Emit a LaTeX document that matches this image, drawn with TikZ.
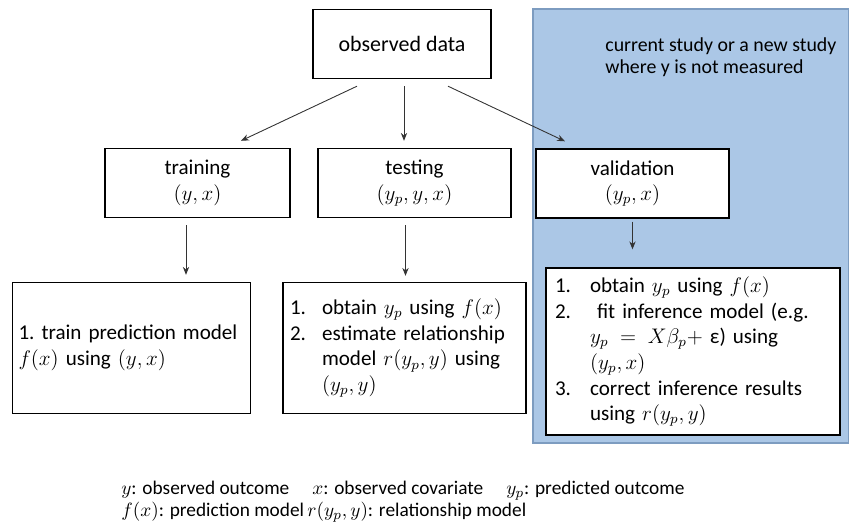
\documentclass[tikz,border=0pt]{standalone}
\usepackage{fontspec}
\setmainfont{Carlito}
\usetikzlibrary{arrows.meta,calc}
\definecolor{studyfill}{HTML}{ABC7E6}
\definecolor{studyline}{HTML}{7D9CC0}

\begin{document}
\begin{tikzpicture}[x=0.02cm,y=-0.02cm,>=Stealth,
  box/.style={draw,line width=0.8pt,fill=white,inner sep=0pt,align=center,
    font=\fontsize{12}{14.6}\selectfont},
  steps/.style={box,align=left,inner xsep=0.14cm},
  arr/.style={->,line width=0.5pt,black!80,>={Stealth[length=4.5pt,width=3.6pt]}}]
\useasboundingbox (0,0) rectangle (849,523);

%% study region (y not measured)
\node[draw=studyline,fill=studyfill,line width=0.8pt,inner sep=0pt,
  minimum width=6.32cm,minimum height=8.68cm] (study) at (691,226) {};
\node[anchor=north west,align=left,inner sep=0pt,font=\fontsize{11.3}{12.6}\selectfont]
  (studylab) at (605,37) {current study or a new study\\where y is not measured};

%% data and the three splits
\node[box,minimum width=3.56cm,minimum height=1.38cm,font=\fontsize{12.5}{14.6}\selectfont] (obs) at (402,44) {observed data};
\node[box,minimum width=3.7cm,minimum height=1.38cm] (train) at (197.5,183) {training\\$(y,x)$};
\node[box,minimum width=3.86cm,minimum height=1.38cm] (test) at (414.5,183) {testing\\$(y_p,y,x)$};
\node[box,minimum width=3.86cm,minimum height=1.38cm] (valid) at (632.5,183.5) {validation\\$(y_p,x)$};

%% what is done with each split
\node[steps,text width=4.52cm,minimum height=2.62cm,inner xsep=0.12cm] (trainres) at (131.5,348)
  {1.\ train prediction model\\$f(x)$ using $(y,x)$};
\node[steps,text width=4.58cm,minimum height=2.62cm] (testres) at (404.5,348) {%
  \begin{tabular}{@{}p{0.64cm}@{}l@{}}
  1. & obtain $y_p$ using $f(x)$\\
  2. & estimate relationship\\
     & model $r(y_p,y)$ using\\
     & $(y_p,y)$
  \end{tabular}};
\node[steps,text width=5.52cm,minimum height=3.34cm,inner xsep=0.18cm] (validres) at (693,351.5) {%
  \begin{tabular}{@{}p{0.7cm}@{}l@{}}
  1. & obtain $y_p$ using $f(x)$\\
  2. & \ fit inference model (e.g.\\
     & $y_p\;=\;X\beta_p+$\ ε) using\\
     & $(y_p,x)$\\
  3. & correct inference results\\
     & using $r(y_p,y)$
  \end{tabular}};

%% legend
\node[anchor=north west,align=left,inner sep=0pt,font=\fontsize{11}{12.5}\selectfont] (legend) at (121,481) {%
  \makebox[3.82cm][l]{$y$: observed outcome}\makebox[3.88cm][l]{$x$: observed covariate}$y_p$: predicted outcome\\
  \makebox[3.72cm][l]{$f(x)$: prediction model}$r(y_p,y)$: relationship model};

%% arrows
\draw[arr] ($(obs.south)+(-45,7)$) -- ($(train.north)+(43.5,-7)$);
\draw[arr] ($(obs.south)+(2,7)$) -- ($(test.north)+(-10.5,-7)$);
\draw[arr] ($(obs.south)+(46,7)$) -- ($(valid.north)+(-67.5,-7)$);
\foreach \a/\b/\dx/\s/\g in {train/trainres/-11.5/7/0.14cm,test/testres/-9/7/0.12cm,valid/validres/0/3/0.36cm} {
  \draw[arr,shorten >=\g] ($(\a.south)+(\dx,\s)$) coordinate (top) -- (top |- \b.north);
}
\end{tikzpicture}
\end{document}
